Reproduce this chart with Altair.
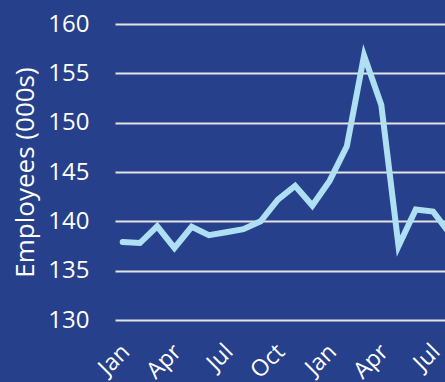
import altair as alt
import pandas as pd

month_index = list(range(20))
employees = [137.9, 137.8, 139.5, 137.3, 139.45, 138.6, 138.9, 139.2, 140.0, 142.2,
             143.6, 141.6, 144.1, 147.6, 156.8, 151.8, 137.5, 141.2, 141.0, 138.7]
month_names = ["Jan", "Feb", "Mar", "Apr", "May", "Jun", "Jul", "Aug", "Sep", "Oct", "Nov", "Dec"]
tick_values = [0, 3, 6, 9, 12, 15, 18]
y_ticks = [130, 135, 140, 145, 150, 155, 160]

df = pd.DataFrame({"i": month_index, "emp": employees})

label_expr = "[" + ",".join("'%s'" % m for m in month_names) + "][datum.value % 12]"

chart = alt.Chart(df).mark_line(
    color="#aedff2", strokeWidth=6, strokeCap="round", strokeJoin="miter", clip=True
).encode(
    x=alt.X("i:Q",
            scale=alt.Scale(domain=[-0.447, 18.695], nice=False, zero=False),
            axis=alt.Axis(values=tick_values, labelExpr=label_expr, labelAngle=-45,
                          grid=False, domain=False, ticks=False, title=None,
                          labelFontSize=23, labelPadding=20, labelOffset=-5,
                          labelColor="white", labelFont="Open Sans")),
    y=alt.Y("emp:Q",
            scale=alt.Scale(domain=[130, 160], nice=False, zero=False),
            axis=alt.Axis(values=y_ticks, title="Employees (000s)", grid=True,
                          gridColor="#e4e4e4", gridWidth=2, domain=False, ticks=False,
                          labelFontSize=24, labelPadding=26, labelColor="white",
                          labelFont="Open Sans", titleFont="Open Sans",
                          titleFontSize=26, titleFontWeight="normal", titleColor="white",
                          titlePadding=9)),
).properties(
    width=330, height=296,
    background="#26408b",
    autosize=alt.AutoSizeParams(type="none"),
    padding={"left": 115, "top": 24, "right": 0, "bottom": 62},
).configure_view(stroke=None)

chart.save("out.html", embed_options={"renderer": "svg", "actions": False})
